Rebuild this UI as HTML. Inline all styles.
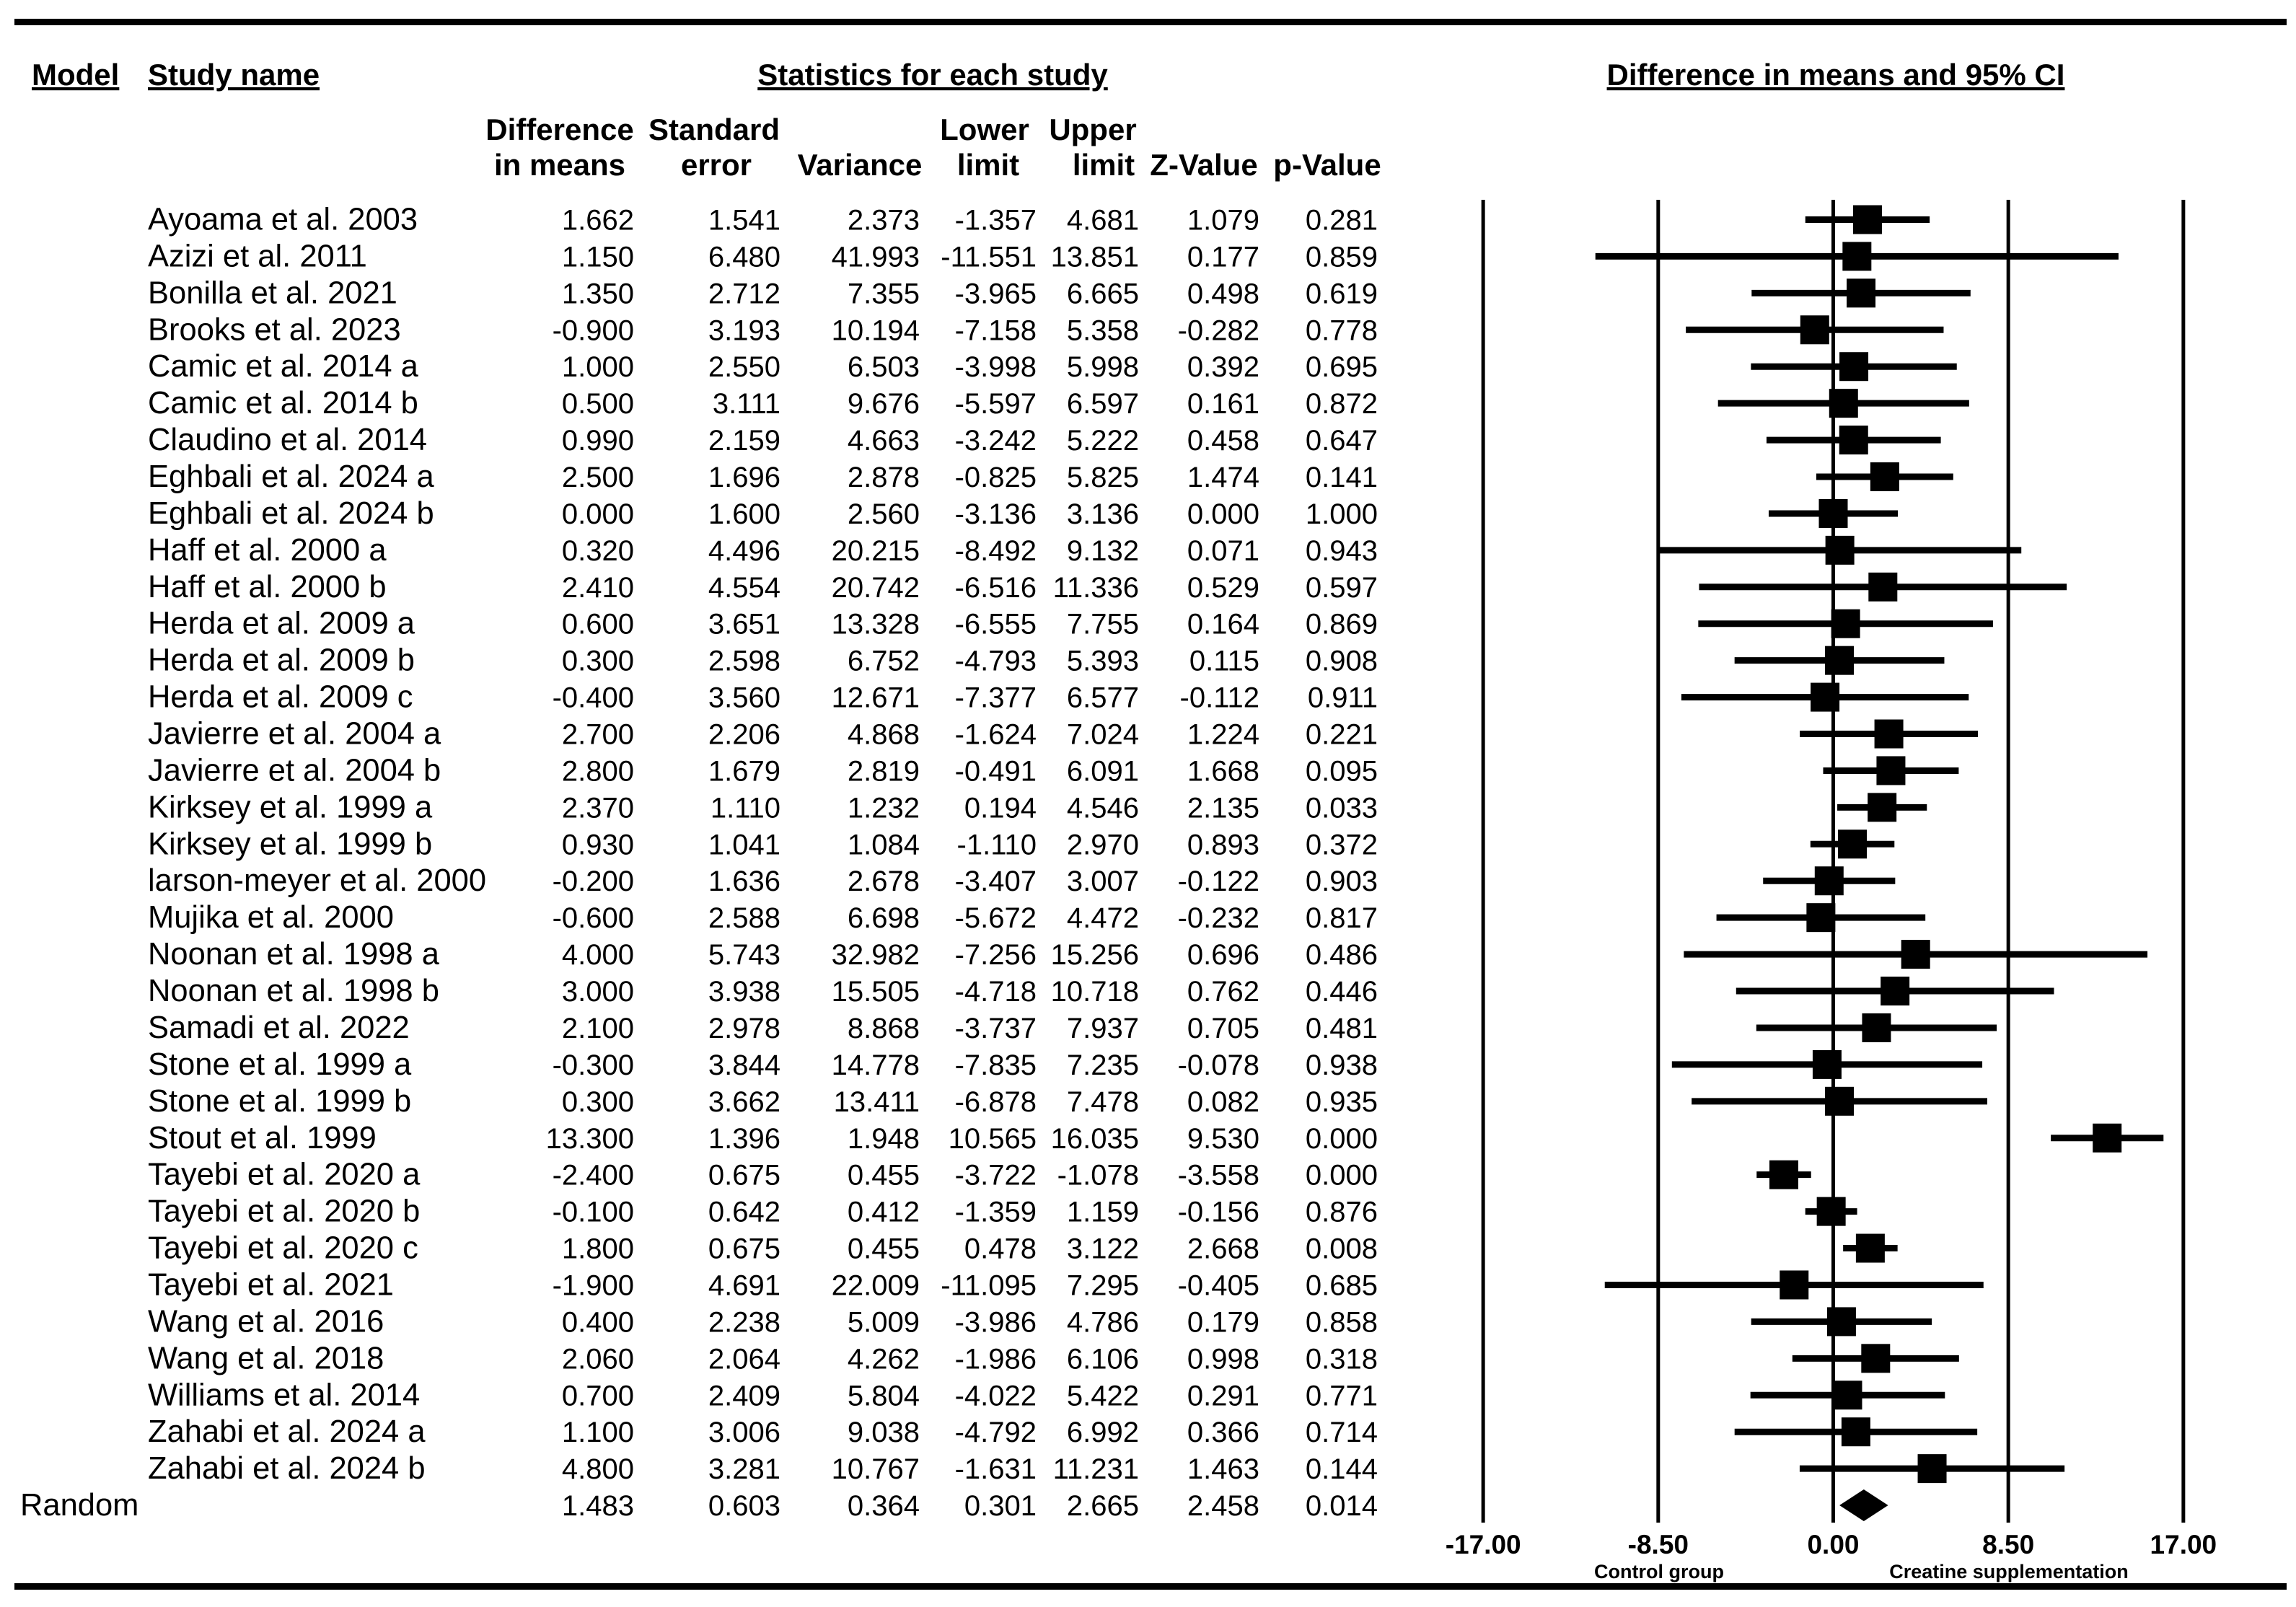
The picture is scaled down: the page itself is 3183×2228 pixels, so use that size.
<!DOCTYPE html>
<html><head><meta charset="utf-8"><style>
html,body{margin:0;padding:0;background:#fff;}
svg{display:block;}
text{font-family:"Liberation Sans",Arial,sans-serif;fill:#000;}
.b{font-weight:bold;}
</style></head><body>
<svg id="chart" width="3183" height="2228" viewBox="0 0 3183 2228" xmlns="http://www.w3.org/2000/svg">
<rect x="20" y="26" width="3150" height="9" fill="#000"/>
<rect x="20" y="2195" width="3150" height="9" fill="#000"/>
<g font-size="42" class="b">
<text class="b" x="44" y="118" text-decoration="underline">Model</text>
<text class="b" x="205" y="118" text-decoration="underline">Study name</text>
<text class="b" x="1293" y="118" text-anchor="middle" text-decoration="underline">Statistics for each study</text>
<text class="b" x="2545" y="118" text-anchor="middle" text-decoration="underline">Difference in means and 95% CI</text>
<text class="b" x="776" y="194" text-anchor="middle">Difference</text>
<text class="b" x="776" y="243" text-anchor="middle">in means</text>
<text class="b" x="990" y="194" text-anchor="middle">Standard</text>
<text class="b" x="993" y="243" text-anchor="middle">error</text>
<text class="b" x="1192" y="243" text-anchor="middle">Variance</text>
<text class="b" x="1365" y="194" text-anchor="middle">Lower</text>
<text class="b" x="1370" y="243" text-anchor="middle">limit</text>
<text class="b" x="1515" y="194" text-anchor="middle">Upper</text>
<text class="b" x="1530" y="243" text-anchor="middle">limit</text>
<text class="b" x="1669" y="243" text-anchor="middle">Z-Value</text>
<text class="b" x="1840" y="243" text-anchor="middle">p-Value</text>
</g>
<g id="table"></g>
<g id="plot"></g>
</svg>
<script>
const studies = ["Ayoama et al. 2003","Azizi et al. 2011","Bonilla et al. 2021","Brooks et al. 2023","Camic et al. 2014 a","Camic et al. 2014 b","Claudino et al. 2014","Eghbali et al. 2024 a","Eghbali et al. 2024 b","Haff et al. 2000 a","Haff et al. 2000 b","Herda et al. 2009 a","Herda et al. 2009 b","Herda et al. 2009 c","Javierre et al. 2004 a","Javierre et al. 2004 b","Kirksey et al. 1999 a","Kirksey et al. 1999 b","larson-meyer et al. 2000","Mujika et al. 2000","Noonan et al. 1998 a","Noonan et al. 1998 b","Samadi et al. 2022","Stone et al. 1999 a","Stone et al. 1999 b","Stout et al. 1999","Tayebi et al. 2020 a","Tayebi et al. 2020 b","Tayebi et al. 2020 c","Tayebi et al. 2021","Wang et al. 2016","Wang et al. 2018","Williams et al. 2014","Zahabi et al. 2024 a","Zahabi et al. 2024 b"];
const diff = [1.662,1.150,1.350,-0.900,1.000,0.500,0.990,2.500,0.000,0.320,2.410,0.600,0.300,-0.400,2.700,2.800,2.370,0.930,-0.200,-0.600,4.000,3.000,2.100,-0.300,0.300,13.300,-2.400,-0.100,1.800,-1.900,0.400,2.060,0.700,1.100,4.800];
const se = [1.541,6.480,2.712,3.193,2.550,3.111,2.159,1.696,1.600,4.496,4.554,3.651,2.598,3.560,2.206,1.679,1.110,1.041,1.636,2.588,5.743,3.938,2.978,3.844,3.662,1.396,0.675,0.642,0.675,4.691,2.238,2.064,2.409,3.006,3.281];
const variance = [2.373,41.993,7.355,10.194,6.503,9.676,4.663,2.878,2.560,20.215,20.742,13.328,6.752,12.671,4.868,2.819,1.232,1.084,2.678,6.698,32.982,15.505,8.868,14.778,13.411,1.948,0.455,0.412,0.455,22.009,5.009,4.262,5.804,9.038,10.767];
const lower = [-1.357,-11.551,-3.965,-7.158,-3.998,-5.597,-3.242,-0.825,-3.136,-8.492,-6.516,-6.555,-4.793,-7.377,-1.624,-0.491,0.194,-1.110,-3.407,-5.672,-7.256,-4.718,-3.737,-7.835,-6.878,10.565,-3.722,-1.359,0.478,-11.095,-3.986,-1.986,-4.022,-4.792,-1.631];
const upper = [4.681,13.851,6.665,5.358,5.998,6.597,5.222,5.825,3.136,9.132,11.336,7.755,5.393,6.577,7.024,6.091,4.546,2.970,3.007,4.472,15.256,10.718,7.937,7.235,7.478,16.035,-1.078,1.159,3.122,7.295,4.786,6.106,5.422,6.992,11.231];
const zval = [1.079,0.177,0.498,-0.282,0.392,0.161,0.458,1.474,0.000,0.071,0.529,0.164,0.115,-0.112,1.224,1.668,2.135,0.893,-0.122,-0.232,0.696,0.762,0.705,-0.078,0.082,9.530,-3.558,-0.156,2.668,-0.405,0.179,0.998,0.291,0.366,1.463];
const pval = [0.281,0.859,0.619,0.778,0.695,0.872,0.647,0.141,1.000,0.943,0.597,0.869,0.908,0.911,0.221,0.095,0.033,0.372,0.903,0.817,0.486,0.446,0.481,0.938,0.935,0.000,0.000,0.876,0.008,0.685,0.858,0.318,0.771,0.714,0.144];
const summary = [1.483,0.603,0.364,0.301,2.665,2.458,0.014];
const ticks = [-17,-8.5,0,8.5,17];
const tickLabels = ["-17.00","-8.50","0.00","8.50","17.00"];

const NS="http://www.w3.org/2000/svg";
const xs = v => 2541.5 + v*28.55;
const ys = i => 304.5 + i*50.93;
const colX = [879,1082,1275,1437,1579,1746,1910];
const tbl = document.getElementById('table');
const plot = document.getElementById('plot');
function mk(tag, attrs, parent){const e=document.createElementNS(NS,tag);for(const k in attrs)e.setAttribute(k,attrs[k]);parent.appendChild(e);return e;}
function txt(x,y,s,anchor,parent,fs){const t=mk('text',{x:x,y:y,'font-size':fs||40,'text-anchor':anchor},parent);t.textContent=s;return t;}

studies.forEach((name,i)=>{
  const y=ys(i)+14;
  const t=txt(205,y,name,'start',tbl,43.5);
  
  
  const vals=[diff[i],se[i],variance[i],lower[i],upper[i],zval[i],pval[i]];
  vals.forEach((v,j)=>{
    const c=txt(colX[j],y,v.toFixed(3),'end',tbl);
    
    
  });
});
{
  const y=ys(studies.length)+14;
  const r=txt(28,y,'Random','start',tbl,43.5);
  
  
  summary.forEach((v,j)=>{
    const c=txt(colX[j],y,v.toFixed(3),'end',tbl);
    
    
  });
}
ticks.forEach((t,k)=>{
  const l=mk('line',{x1:xs(t),x2:xs(t),y1:277,y2:2111,stroke:'#000','stroke-width':5},plot);
  
  
  const tl=mk('text',{x:xs(t),y:2154,'font-size':37,'font-weight':'bold','text-anchor':'middle'},plot);
  tl.textContent=tickLabels[k];
  
  
});
studies.forEach((name,i)=>{
  const y=ys(i);
  const l=mk('line',{x1:xs(lower[i]),x2:xs(upper[i]),y1:y,y2:y,stroke:'#000','stroke-width':9},plot);
  
  
  const s=mk('rect',{x:xs(diff[i])-20,y:y-20,width:40,height:40,fill:'#000'},plot);
  
  
});
{
  const y=ys(studies.length);
  const d=mk('polygon',{points:`${xs(summary[3])},${y} ${xs(summary[0])},${y-22} ${xs(summary[4])},${y} ${xs(summary[0])},${y+22}`,fill:'#000'},plot);
  
  
}
const c1=mk('text',{x:2300,y:2188,'font-size':27,'font-weight':'bold','text-anchor':'middle'},plot);
c1.textContent='Control group';


const c2=mk('text',{x:2785,y:2188,'font-size':27,'font-weight':'bold','text-anchor':'middle'},plot);
c2.textContent='Creatine supplementation';


</script>
</body></html>
